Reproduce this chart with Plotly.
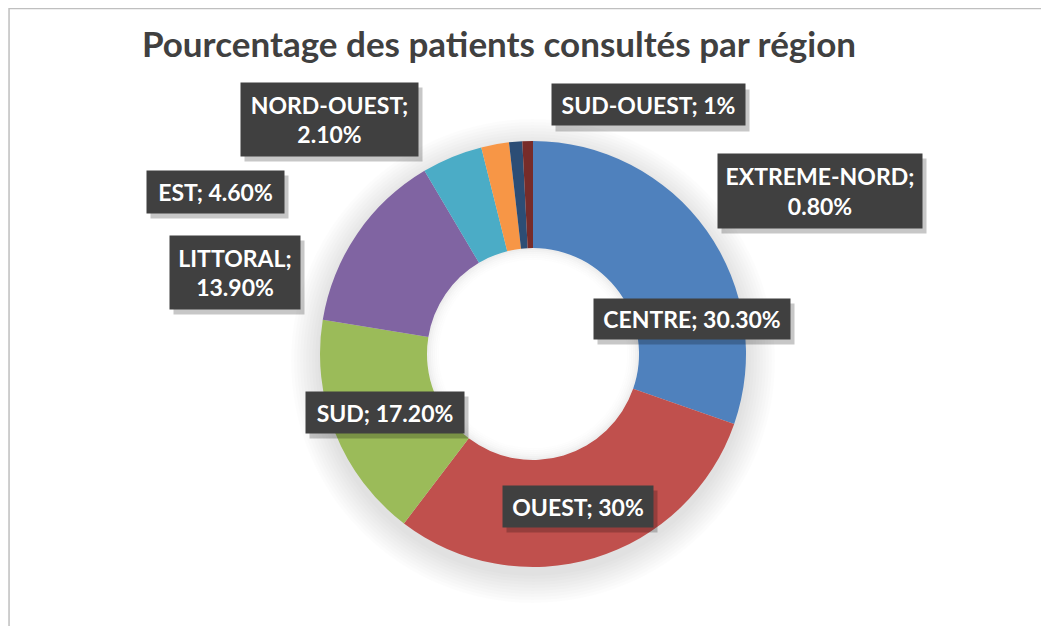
import plotly.graph_objects as go

# ---- data ----
regions = ["CENTRE", "OUEST", "SUD", "LITTORAL", "EST", "NORD-OUEST", "SUD-OUEST", "EXTREME-NORD"]
percents = [30.3, 30.0, 17.2, 13.9, 4.6, 2.1, 1.0, 0.8]
colors = ["#4F81BD", "#C0504D", "#9BBB59", "#8064A2", "#4BACC6", "#F79646", "#2C4D75", "#772C2A"]
two_line = ["NORD-OUEST", "EXTREME-NORD", "LITTORAL"]
title_text = "Pourcentage des patients consultés par région"

# label box placement in page pixels (centre x, centre y, width, height)
label_boxes = {
    "CENTRE": (692, 319, 196, 40),
    "OUEST": (578, 506, 150, 41),
    "SUD": (385, 412, 158, 41),
    "LITTORAL": (235, 272, 130, 73),
    "EST": (215, 192, 137, 42),
    "NORD-OUEST": (329, 119, 177, 73),
    "SUD-OUEST": (648, 105, 193, 41),
    "EXTREME-NORD": (820, 191, 204, 74),
}

OFF = 8                     # page body margin
W, H = 1049 - OFF, 626 - OFF
CX, CY, R = 533 - OFF, 354 - OFF, 213
HOLE_R = 106


def fmt(v):
    return f"{int(v)}%" if float(v).is_integer() else f"{v:.2f}%"


def px(x):
    return (x - OFF) / W


def py(y):
    return 1 - (y - OFF) / H


fig = go.Figure()
fig.add_trace(go.Pie(
    labels=regions,
    values=percents,
    hole=HOLE_R / R,
    sort=False,
    direction="clockwise",
    rotation=0,
    marker=dict(colors=colors, line=dict(width=0)),
    textinfo="none",
    hoverinfo="label+percent",
    showlegend=False,
    domain=dict(x=[(CX - R) / W, (CX + R) / W], y=[(H - CY - R) / H, (H - CY + R) / H]),
))

shapes = []
# soft shadow around the donut
for i in range(10):
    rr = R + 2 + i * 3.0
    oy = 7
    shapes.append(dict(type="circle", xref="paper", yref="paper", layer="below",
                       x0=(CX - rr) / W, x1=(CX + rr) / W,
                       y0=(H - CY - oy - rr) / H, y1=(H - CY - oy + rr) / H,
                       fillcolor="rgba(0,0,0,0.011)", line=dict(width=0)))
# white hole (hide the shadow through the hole)
shapes.append(dict(type="circle", xref="paper", yref="paper", layer="below",
                   x0=(CX - HOLE_R - 1) / W, x1=(CX + HOLE_R + 1) / W,
                   y0=(H - CY - HOLE_R - 1) / H, y1=(H - CY + HOLE_R + 1) / H,
                   fillcolor="white", line=dict(width=0)))
# inner shadow of the hole
for i, a in enumerate([0.07, 0.05, 0.035, 0.025, 0.015, 0.008]):
    rr = HOLE_R - 1 - i * 2
    shapes.append(dict(type="circle", xref="paper", yref="paper", layer="above",
                       x0=(CX - rr) / W, x1=(CX + rr) / W,
                       y0=(H - CY - rr) / H, y1=(H - CY + rr) / H,
                       fillcolor="rgba(0,0,0,0)", line=dict(width=2, color=f"rgba(0,0,0,{a})")))
# chart border
shapes.append(dict(type="rect", xref="paper", yref="paper",
                   x0=0.001, x1=1.02, y0=-0.02, y1=0.999,
                   line=dict(color="#BFBFBF", width=1.5), fillcolor="rgba(0,0,0,0)"))

annotations = []
for name, val in zip(regions, percents):
    cx, cy, w, h = label_boxes[name]
    sep = "<br>" if name in two_line else " "
    text = f"<b>{name};{sep}{fmt(val)}</b>"
    # shadow
    annotations.append(dict(xref="paper", yref="paper", x=px(cx + 4), y=py(cy + 5),
                            xanchor="center", yanchor="middle",
                            text="", showarrow=False, width=w, height=h,
                            bgcolor="rgba(0,0,0,0.22)", borderpad=0))
    annotations.append(dict(xref="paper", yref="paper", x=px(cx), y=py(cy),
                            xanchor="center", yanchor="middle",
                            text=text, showarrow=False, width=w, height=h,
                            bgcolor="#404040", borderpad=0,
                            font=dict(family="Lato, Open Sans, sans-serif", size=23, color="white")))

fig.update_layout(
    width=W, height=H,
    margin=dict(l=0, r=0, t=0, b=0),
    paper_bgcolor="white",
    plot_bgcolor="white",
    shapes=shapes,
    annotations=annotations,
    title=dict(text=f"<b>{title_text}</b>", x=px(499), xanchor="center",
               y=py(45), yanchor="middle",
               font=dict(family="Lato, Open Sans, sans-serif", size=35, color="#404040")),
)

fig.write_html("out.html")
